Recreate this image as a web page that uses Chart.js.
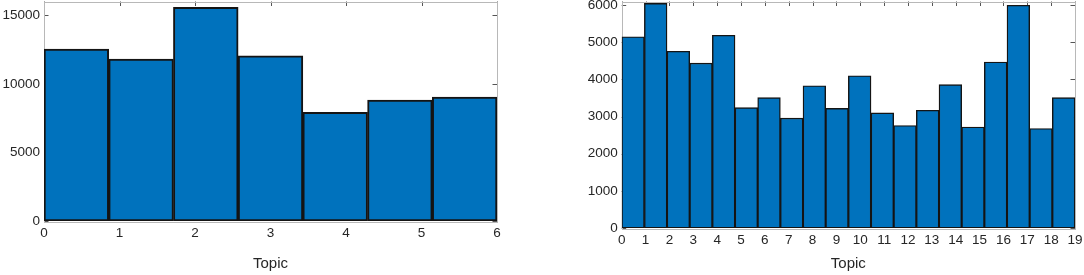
<!DOCTYPE html>
<html><head><meta charset="utf-8">
<script src="https://cdn.jsdelivr.net/npm/chart.js@4/dist/chart.umd.min.js"></script>
<style>
html,body{margin:0;padding:0;background:#fff;width:1084px;height:275px;overflow:hidden}
canvas{position:absolute;top:0;display:block}
#c1{left:0}
#c2{left:560px}
</style></head><body>
<canvas id="c1" width="515" height="275"></canvas>
<canvas id="c2" width="524" height="275"></canvas>
<script>
// ---- Data: left histogram (7 bins over 0..6) ----
const countsA = [12530, 11800, 15570, 12040, 7930, 8810, 9030];
const xTicksA = [0, 1, 2, 3, 4, 5, 6];
const yTicksA = [0, 5000, 10000, 15000];
const xMaxA = 6, yMaxA = 16000;

// ---- Data: right histogram (20 bins over 0..19) ----
const countsB = [5150, 6050, 4760, 4440, 5190, 3240, 3510, 2960, 3830, 3220,
                 4100, 3100, 2760, 3170, 3860, 2720, 4470, 6000, 2680, 3510];
const xTicksB = [0,1,2,3,4,5,6,7,8,9,10,11,12,13,14,15,16,17,18,19];
const yTicksB = [0, 1000, 2000, 3000, 4000, 5000, 6000];
const xMaxB = 19, yMaxB = 6100;

const axisLabel = 'Topic';
const TXT = '#262626';
const FONT = 'Helvetica, "Liberation Sans", Arial, sans-serif';

const frame = {
  id: 'frame',
  beforeDatasetsDraw(chart) {
    const {ctx, chartArea: a, scales: {x, y}} = chart;
    ctx.save();
    ctx.lineWidth = 1;
    ctx.strokeStyle = '#555';
    const L = 4.5;
    ctx.beginPath();
    x.ticks.forEach(t => {
      const p = Math.round(x.getPixelForValue(t.value)) + 0.5;
      ctx.moveTo(p, a.top); ctx.lineTo(p, a.top + L);
      ctx.moveTo(p, a.bottom); ctx.lineTo(p, a.bottom - L);
    });
    y.ticks.forEach(t => {
      const p = Math.round(y.getPixelForValue(t.value)) + 0.5;
      ctx.moveTo(a.left, p); ctx.lineTo(a.left + L, p);
      ctx.moveTo(a.right, p); ctx.lineTo(a.right - L, p);
    });
    ctx.stroke();
    ctx.strokeStyle = '#b8b8b8';
    ctx.strokeRect(Math.round(a.left) + 0.5, Math.round(a.top) + 0.5,
                   Math.round(a.right - a.left), Math.round(a.bottom - a.top));
    ctx.restore();
  }
};

function make(id, counts, xMax, xTicks, yMax, yTicks, cfg) {
  const n = counts.length;
  new Chart(document.getElementById(id), {
    type: 'bar',
    data: {
      datasets: [{
        data: counts.map((v, i) => ({x: (i + 0.5) * xMax / n, y: v})),
        backgroundColor: '#0072BD',
        borderColor: '#141414',
        borderWidth: cfg.bw,
        borderSkipped: false,
        barPercentage: 1,
        categoryPercentage: 1
      }]
    },
    options: {
      responsive: false,
      animation: false,
      events: [],
      layout: {padding: {left: 0, right: cfg.padR, top: cfg.padT, bottom: 0}},
      plugins: {legend: {display: false}, tooltip: {enabled: false}},
      scales: {
        x: {
          type: 'linear', min: 0, max: xMax, offset: false,
          grid: {display: false, drawTicks: false}, border: {display: false},
          ticks: {padding: 4, autoSkip: false, maxRotation: 0, color: TXT,
                  font: {family: FONT, size: cfg.fs}, callback: v => String(v)},
          afterBuildTicks: s => { s.ticks = xTicks.map(v => ({value: v})); },
          afterFit: s => { s.height = cfg.xH; s.paddingLeft = 0; s.paddingRight = 0; },
          title: {display: true, text: axisLabel, color: TXT,
                  font: {family: FONT, size: 15}, padding: {top: 0, bottom: 2}}
        },
        y: {
          min: 0, max: yMax,
          grid: {display: false, drawTicks: false}, border: {display: false},
          ticks: {padding: 4, color: TXT, font: {family: FONT, size: cfg.fs},
                  callback: v => String(v)},
          afterBuildTicks: s => { s.ticks = yTicks.map(v => ({value: v})); },
          afterFit: s => { s.width = cfg.yW; s.paddingTop = 0; s.paddingBottom = 0; }
        }
      }
    },
    plugins: [frame]
  });
}

make('c1', countsA, xMaxA, xTicksA, yMaxA, yTicksA, {bw: 2, padR: 18, padT: 1.5, xH: 54, yW: 44, fs: 13.5});
make('c2', countsB, xMaxB, xTicksB, yMaxB, yTicksB, {bw: 1.4, padR: 9, padT: 1.5, xH: 47, yW: 61.7, fs: 13.5});
</script>
</body></html>
